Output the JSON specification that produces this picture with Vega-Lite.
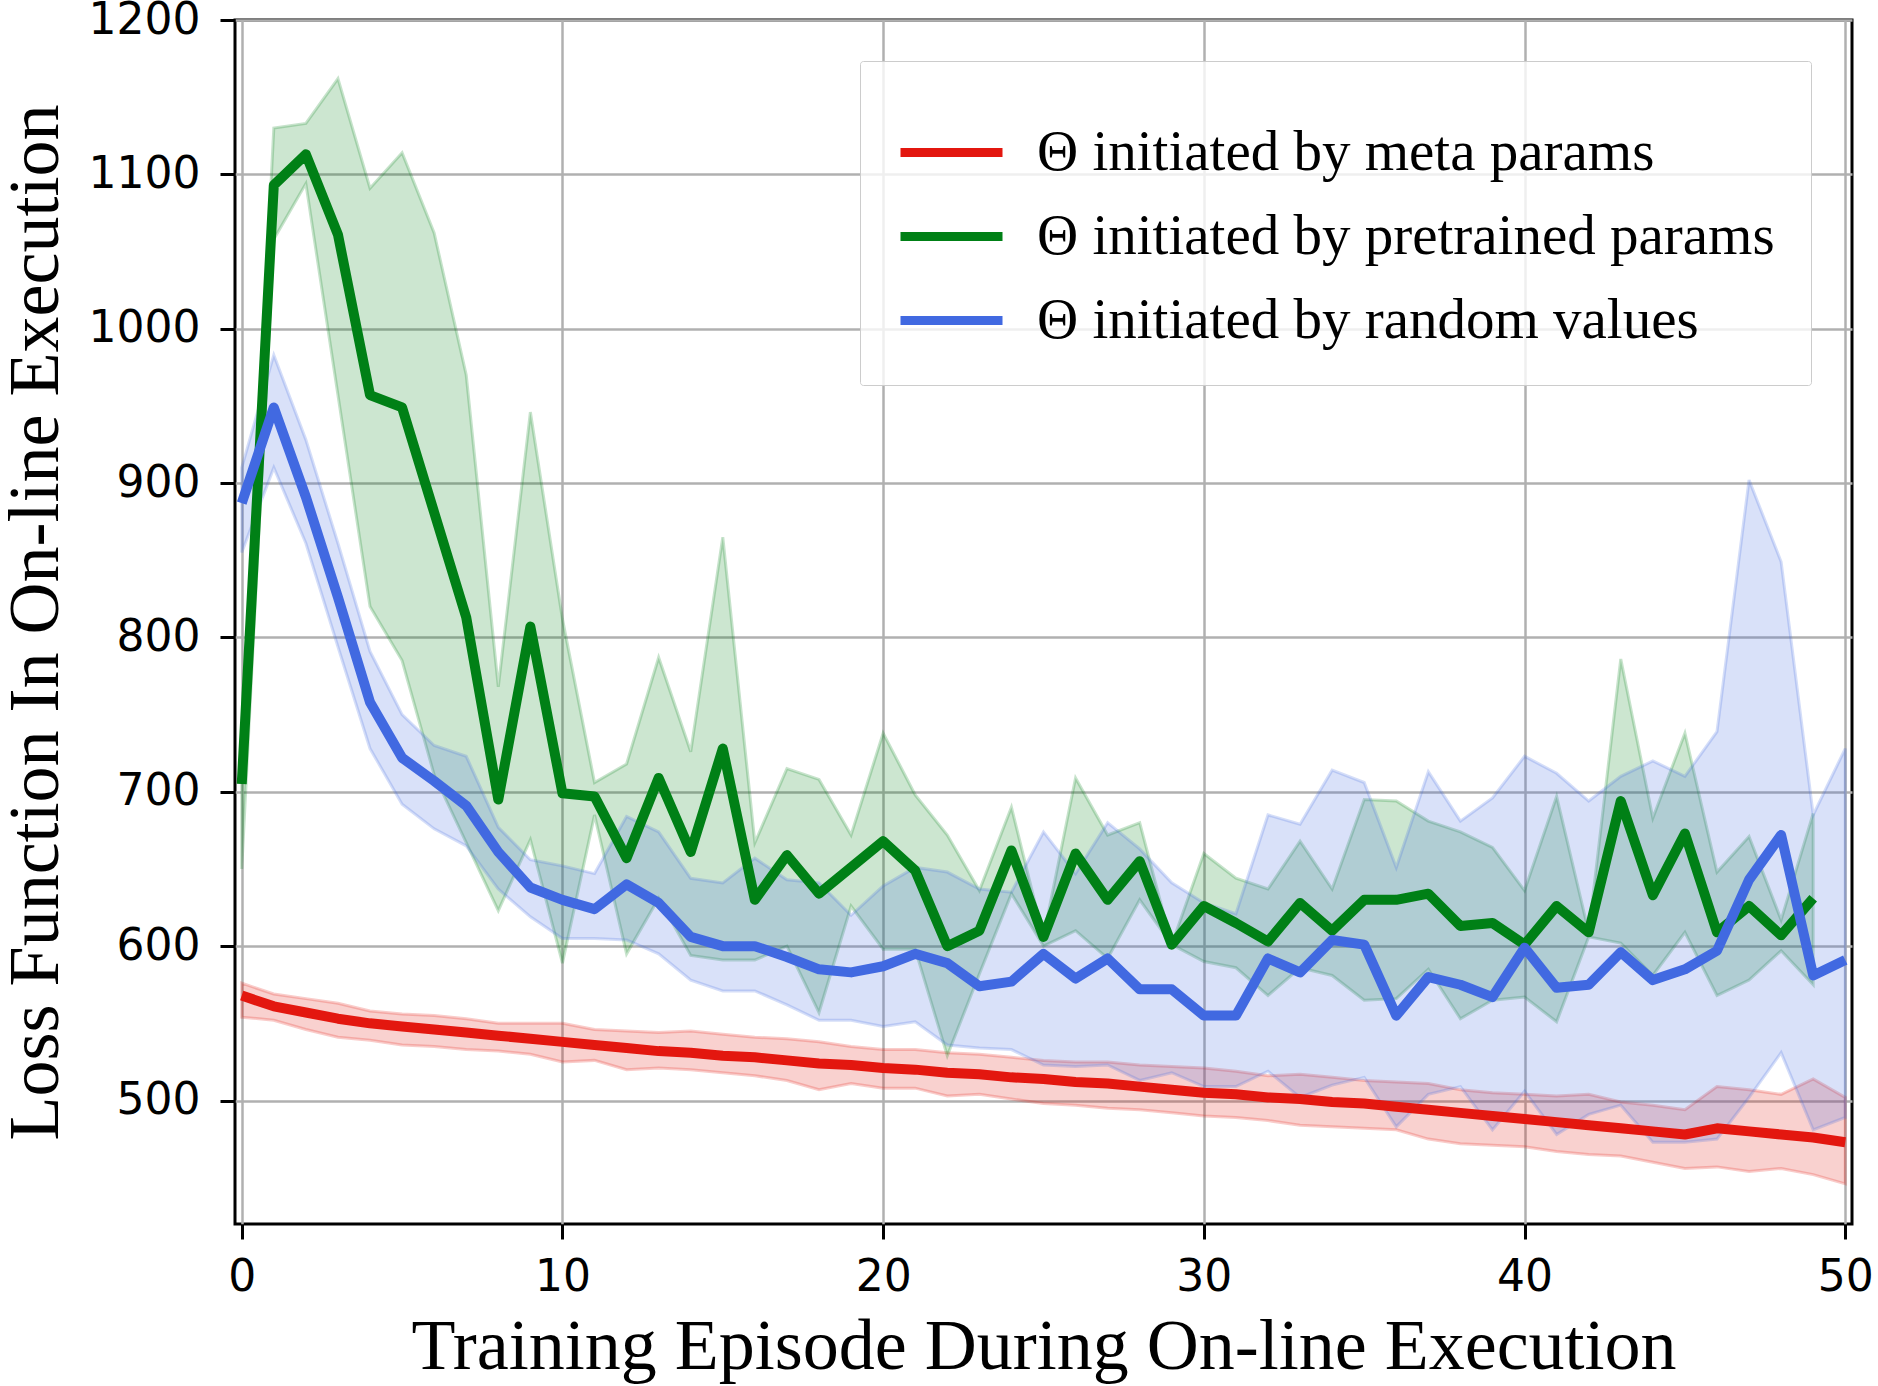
{
  "$schema": "https://vega.github.io/schema/vega-lite/v6.json",
  "description": "Loss function during on-line execution for three parameter initialisations, mean line with spread band.",
  "autosize": {"type": "none"},
  "padding": {"left": 235, "top": 20, "right": 26, "bottom": 162},
  "width": 1617,
  "height": 1204,
  "background": "white",
  "data": {
    "values": [
      {"ep": 0, "s": "Θ initiated by meta params", "m": 568, "lo": 554, "hi": 576},
      {"ep": 1, "s": "Θ initiated by meta params", "m": 561, "lo": 552, "hi": 569},
      {"ep": 2, "s": "Θ initiated by meta params", "m": 557, "lo": 546, "hi": 566},
      {"ep": 3, "s": "Θ initiated by meta params", "m": 553, "lo": 541, "hi": 563},
      {"ep": 4, "s": "Θ initiated by meta params", "m": 550, "lo": 539, "hi": 558},
      {"ep": 5, "s": "Θ initiated by meta params", "m": 548, "lo": 536, "hi": 556},
      {"ep": 6, "s": "Θ initiated by meta params", "m": 546, "lo": 535, "hi": 555},
      {"ep": 7, "s": "Θ initiated by meta params", "m": 544, "lo": 533, "hi": 553},
      {"ep": 8, "s": "Θ initiated by meta params", "m": 542, "lo": 532, "hi": 550},
      {"ep": 9, "s": "Θ initiated by meta params", "m": 540, "lo": 530, "hi": 550},
      {"ep": 10, "s": "Θ initiated by meta params", "m": 538, "lo": 525, "hi": 550},
      {"ep": 11, "s": "Θ initiated by meta params", "m": 536, "lo": 526, "hi": 546},
      {"ep": 12, "s": "Θ initiated by meta params", "m": 534, "lo": 520, "hi": 545},
      {"ep": 13, "s": "Θ initiated by meta params", "m": 532, "lo": 521, "hi": 544},
      {"ep": 14, "s": "Θ initiated by meta params", "m": 531, "lo": 520, "hi": 545},
      {"ep": 15, "s": "Θ initiated by meta params", "m": 529, "lo": 518, "hi": 543},
      {"ep": 16, "s": "Θ initiated by meta params", "m": 528, "lo": 516, "hi": 541},
      {"ep": 17, "s": "Θ initiated by meta params", "m": 526, "lo": 513, "hi": 540},
      {"ep": 18, "s": "Θ initiated by meta params", "m": 524, "lo": 507, "hi": 538},
      {"ep": 19, "s": "Θ initiated by meta params", "m": 523, "lo": 511, "hi": 535},
      {"ep": 20, "s": "Θ initiated by meta params", "m": 521, "lo": 508, "hi": 533},
      {"ep": 21, "s": "Θ initiated by meta params", "m": 520, "lo": 508, "hi": 533},
      {"ep": 22, "s": "Θ initiated by meta params", "m": 518, "lo": 503, "hi": 531},
      {"ep": 23, "s": "Θ initiated by meta params", "m": 517, "lo": 504, "hi": 530},
      {"ep": 24, "s": "Θ initiated by meta params", "m": 515, "lo": 501, "hi": 528},
      {"ep": 25, "s": "Θ initiated by meta params", "m": 514, "lo": 498, "hi": 526},
      {"ep": 26, "s": "Θ initiated by meta params", "m": 512, "lo": 497, "hi": 525},
      {"ep": 27, "s": "Θ initiated by meta params", "m": 511, "lo": 495, "hi": 525},
      {"ep": 28, "s": "Θ initiated by meta params", "m": 509, "lo": 494, "hi": 523},
      {"ep": 29, "s": "Θ initiated by meta params", "m": 507, "lo": 492, "hi": 522},
      {"ep": 30, "s": "Θ initiated by meta params", "m": 505, "lo": 490, "hi": 521},
      {"ep": 31, "s": "Θ initiated by meta params", "m": 504, "lo": 489, "hi": 519},
      {"ep": 32, "s": "Θ initiated by meta params", "m": 502, "lo": 487, "hi": 516},
      {"ep": 33, "s": "Θ initiated by meta params", "m": 501, "lo": 484, "hi": 517},
      {"ep": 34, "s": "Θ initiated by meta params", "m": 499, "lo": 483, "hi": 515},
      {"ep": 35, "s": "Θ initiated by meta params", "m": 498, "lo": 482, "hi": 513},
      {"ep": 36, "s": "Θ initiated by meta params", "m": 496, "lo": 481, "hi": 512},
      {"ep": 37, "s": "Θ initiated by meta params", "m": 494, "lo": 475, "hi": 511},
      {"ep": 38, "s": "Θ initiated by meta params", "m": 492, "lo": 472, "hi": 507},
      {"ep": 39, "s": "Θ initiated by meta params", "m": 490, "lo": 471, "hi": 505},
      {"ep": 40, "s": "Θ initiated by meta params", "m": 488, "lo": 470, "hi": 504},
      {"ep": 41, "s": "Θ initiated by meta params", "m": 486, "lo": 467, "hi": 503},
      {"ep": 42, "s": "Θ initiated by meta params", "m": 484, "lo": 465, "hi": 504},
      {"ep": 43, "s": "Θ initiated by meta params", "m": 482, "lo": 464, "hi": 499},
      {"ep": 44, "s": "Θ initiated by meta params", "m": 480, "lo": 460, "hi": 497},
      {"ep": 45, "s": "Θ initiated by meta params", "m": 478, "lo": 456, "hi": 494},
      {"ep": 46, "s": "Θ initiated by meta params", "m": 482, "lo": 457, "hi": 509},
      {"ep": 47, "s": "Θ initiated by meta params", "m": 480, "lo": 454, "hi": 507},
      {"ep": 48, "s": "Θ initiated by meta params", "m": 478, "lo": 456, "hi": 504},
      {"ep": 49, "s": "Θ initiated by meta params", "m": 476, "lo": 452, "hi": 514},
      {"ep": 50, "s": "Θ initiated by meta params", "m": 473, "lo": 446, "hi": 502},

      {"ep": 0, "s": "Θ initiated by pretrained params", "m": 705, "lo": 650, "hi": 720},
      {"ep": 1, "s": "Θ initiated by pretrained params", "m": 1093, "lo": 1058, "hi": 1130},
      {"ep": 2, "s": "Θ initiated by pretrained params", "m": 1113, "lo": 1094, "hi": 1133},
      {"ep": 3, "s": "Θ initiated by pretrained params", "m": 1061, "lo": 957, "hi": 1162},
      {"ep": 4, "s": "Θ initiated by pretrained params", "m": 957, "lo": 820, "hi": 1091},
      {"ep": 5, "s": "Θ initiated by pretrained params", "m": 949, "lo": 785, "hi": 1114},
      {"ep": 6, "s": "Θ initiated by pretrained params", "m": 881, "lo": 711, "hi": 1062},
      {"ep": 7, "s": "Θ initiated by pretrained params", "m": 813, "lo": 667, "hi": 970},
      {"ep": 8, "s": "Θ initiated by pretrained params", "m": 695, "lo": 623, "hi": 768},
      {"ep": 9, "s": "Θ initiated by pretrained params", "m": 807, "lo": 669, "hi": 946},
      {"ep": 10, "s": "Θ initiated by pretrained params", "m": 699, "lo": 589, "hi": 812},
      {"ep": 11, "s": "Θ initiated by pretrained params", "m": 697, "lo": 685, "hi": 706},
      {"ep": 12, "s": "Θ initiated by pretrained params", "m": 657, "lo": 595, "hi": 718},
      {"ep": 13, "s": "Θ initiated by pretrained params", "m": 709, "lo": 631, "hi": 787},
      {"ep": 14, "s": "Θ initiated by pretrained params", "m": 661, "lo": 594, "hi": 726},
      {"ep": 15, "s": "Θ initiated by pretrained params", "m": 728, "lo": 591, "hi": 865},
      {"ep": 16, "s": "Θ initiated by pretrained params", "m": 630, "lo": 591, "hi": 667},
      {"ep": 17, "s": "Θ initiated by pretrained params", "m": 659, "lo": 600, "hi": 715},
      {"ep": 18, "s": "Θ initiated by pretrained params", "m": 634, "lo": 557, "hi": 708},
      {"ep": 19, "s": "Θ initiated by pretrained params", "m": 651, "lo": 626, "hi": 672},
      {"ep": 20, "s": "Θ initiated by pretrained params", "m": 668, "lo": 598, "hi": 738},
      {"ep": 21, "s": "Θ initiated by pretrained params", "m": 649, "lo": 598, "hi": 698},
      {"ep": 22, "s": "Θ initiated by pretrained params", "m": 600, "lo": 529, "hi": 672},
      {"ep": 23, "s": "Θ initiated by pretrained params", "m": 610, "lo": 582, "hi": 636},
      {"ep": 24, "s": "Θ initiated by pretrained params", "m": 662, "lo": 634, "hi": 690},
      {"ep": 25, "s": "Θ initiated by pretrained params", "m": 606, "lo": 600, "hi": 606},
      {"ep": 26, "s": "Θ initiated by pretrained params", "m": 660, "lo": 610, "hi": 709},
      {"ep": 27, "s": "Θ initiated by pretrained params", "m": 630, "lo": 592, "hi": 672},
      {"ep": 28, "s": "Θ initiated by pretrained params", "m": 655, "lo": 630, "hi": 680},
      {"ep": 29, "s": "Θ initiated by pretrained params", "m": 601, "lo": 601, "hi": 601},
      {"ep": 30, "s": "Θ initiated by pretrained params", "m": 626, "lo": 590, "hi": 660},
      {"ep": 31, "s": "Θ initiated by pretrained params", "m": 615, "lo": 586, "hi": 644},
      {"ep": 32, "s": "Θ initiated by pretrained params", "m": 603, "lo": 568, "hi": 637},
      {"ep": 33, "s": "Θ initiated by pretrained params", "m": 628, "lo": 586, "hi": 668},
      {"ep": 34, "s": "Θ initiated by pretrained params", "m": 610, "lo": 581, "hi": 637},
      {"ep": 35, "s": "Θ initiated by pretrained params", "m": 630, "lo": 565, "hi": 695},
      {"ep": 36, "s": "Θ initiated by pretrained params", "m": 630, "lo": 566, "hi": 694},
      {"ep": 37, "s": "Θ initiated by pretrained params", "m": 634, "lo": 585, "hi": 681},
      {"ep": 38, "s": "Θ initiated by pretrained params", "m": 613, "lo": 553, "hi": 674},
      {"ep": 39, "s": "Θ initiated by pretrained params", "m": 615, "lo": 565, "hi": 664},
      {"ep": 40, "s": "Θ initiated by pretrained params", "m": 601, "lo": 567, "hi": 636},
      {"ep": 41, "s": "Θ initiated by pretrained params", "m": 626, "lo": 551, "hi": 697},
      {"ep": 42, "s": "Θ initiated by pretrained params", "m": 609, "lo": 606, "hi": 609},
      {"ep": 43, "s": "Θ initiated by pretrained params", "m": 694, "lo": 602, "hi": 786},
      {"ep": 44, "s": "Θ initiated by pretrained params", "m": 633, "lo": 581, "hi": 683},
      {"ep": 45, "s": "Θ initiated by pretrained params", "m": 673, "lo": 609, "hi": 738},
      {"ep": 46, "s": "Θ initiated by pretrained params", "m": 609, "lo": 568, "hi": 648},
      {"ep": 47, "s": "Θ initiated by pretrained params", "m": 626, "lo": 578, "hi": 671},
      {"ep": 48, "s": "Θ initiated by pretrained params", "m": 607, "lo": 597, "hi": 617},
      {"ep": 49, "s": "Θ initiated by pretrained params", "m": 631, "lo": 575, "hi": 686},

      {"ep": 0, "s": "Θ initiated by random values", "m": 887, "lo": 855, "hi": 910},
      {"ep": 1, "s": "Θ initiated by random values", "m": 949, "lo": 910, "hi": 983},
      {"ep": 2, "s": "Θ initiated by random values", "m": 891, "lo": 861, "hi": 928},
      {"ep": 3, "s": "Θ initiated by random values", "m": 826, "lo": 794, "hi": 861},
      {"ep": 4, "s": "Θ initiated by random values", "m": 758, "lo": 728, "hi": 791},
      {"ep": 5, "s": "Θ initiated by random values", "m": 722, "lo": 692, "hi": 750},
      {"ep": 6, "s": "Θ initiated by random values", "m": 707, "lo": 676, "hi": 730},
      {"ep": 7, "s": "Θ initiated by random values", "m": 691, "lo": 665, "hi": 723},
      {"ep": 8, "s": "Θ initiated by random values", "m": 661, "lo": 637, "hi": 677},
      {"ep": 9, "s": "Θ initiated by random values", "m": 638, "lo": 619, "hi": 656},
      {"ep": 10, "s": "Θ initiated by random values", "m": 630, "lo": 605, "hi": 652},
      {"ep": 11, "s": "Θ initiated by random values", "m": 624, "lo": 605, "hi": 647},
      {"ep": 12, "s": "Θ initiated by random values", "m": 640, "lo": 604, "hi": 684},
      {"ep": 13, "s": "Θ initiated by random values", "m": 628, "lo": 595, "hi": 674},
      {"ep": 14, "s": "Θ initiated by random values", "m": 606, "lo": 578, "hi": 644},
      {"ep": 15, "s": "Θ initiated by random values", "m": 600, "lo": 571, "hi": 641},
      {"ep": 16, "s": "Θ initiated by random values", "m": 600, "lo": 571, "hi": 657},
      {"ep": 17, "s": "Θ initiated by random values", "m": 593, "lo": 562, "hi": 643},
      {"ep": 18, "s": "Θ initiated by random values", "m": 585, "lo": 552, "hi": 641},
      {"ep": 19, "s": "Θ initiated by random values", "m": 583, "lo": 552, "hi": 620},
      {"ep": 20, "s": "Θ initiated by random values", "m": 587, "lo": 548, "hi": 639},
      {"ep": 21, "s": "Θ initiated by random values", "m": 595, "lo": 551, "hi": 651},
      {"ep": 22, "s": "Θ initiated by random values", "m": 589, "lo": 536, "hi": 648},
      {"ep": 23, "s": "Θ initiated by random values", "m": 574, "lo": 534, "hi": 637},
      {"ep": 24, "s": "Θ initiated by random values", "m": 577, "lo": 533, "hi": 635},
      {"ep": 25, "s": "Θ initiated by random values", "m": 595, "lo": 523, "hi": 674},
      {"ep": 26, "s": "Θ initiated by random values", "m": 579, "lo": 522, "hi": 647},
      {"ep": 27, "s": "Θ initiated by random values", "m": 592, "lo": 523, "hi": 680},
      {"ep": 28, "s": "Θ initiated by random values", "m": 572, "lo": 513, "hi": 663},
      {"ep": 29, "s": "Θ initiated by random values", "m": 572, "lo": 518, "hi": 641},
      {"ep": 30, "s": "Θ initiated by random values", "m": 555, "lo": 509, "hi": 628},
      {"ep": 31, "s": "Θ initiated by random values", "m": 555, "lo": 509, "hi": 621},
      {"ep": 32, "s": "Θ initiated by random values", "m": 592, "lo": 519, "hi": 685},
      {"ep": 33, "s": "Θ initiated by random values", "m": 583, "lo": 502, "hi": 679},
      {"ep": 34, "s": "Θ initiated by random values", "m": 604, "lo": 510, "hi": 714},
      {"ep": 35, "s": "Θ initiated by random values", "m": 601, "lo": 515, "hi": 706},
      {"ep": 36, "s": "Θ initiated by random values", "m": 555, "lo": 483, "hi": 651},
      {"ep": 37, "s": "Θ initiated by random values", "m": 580, "lo": 504, "hi": 713},
      {"ep": 38, "s": "Θ initiated by random values", "m": 575, "lo": 509, "hi": 681},
      {"ep": 39, "s": "Θ initiated by random values", "m": 567, "lo": 481, "hi": 696},
      {"ep": 40, "s": "Θ initiated by random values", "m": 599, "lo": 506, "hi": 723},
      {"ep": 41, "s": "Θ initiated by random values", "m": 573, "lo": 478, "hi": 712},
      {"ep": 42, "s": "Θ initiated by random values", "m": 575, "lo": 491, "hi": 694},
      {"ep": 43, "s": "Θ initiated by random values", "m": 596, "lo": 497, "hi": 710},
      {"ep": 44, "s": "Θ initiated by random values", "m": 578, "lo": 473, "hi": 720},
      {"ep": 45, "s": "Θ initiated by random values", "m": 585, "lo": 473, "hi": 710},
      {"ep": 46, "s": "Θ initiated by random values", "m": 597, "lo": 475, "hi": 739},
      {"ep": 47, "s": "Θ initiated by random values", "m": 643, "lo": 502, "hi": 902},
      {"ep": 48, "s": "Θ initiated by random values", "m": 672, "lo": 531, "hi": 849},
      {"ep": 49, "s": "Θ initiated by random values", "m": 581, "lo": 481, "hi": 685},
      {"ep": 50, "s": "Θ initiated by random values", "m": 591, "lo": 489, "hi": 728}
    ]
  },
  "encoding": {
    "x": {
      "field": "ep",
      "type": "quantitative",
      "scale": {"domain": [-0.21, 50.21], "nice": false, "zero": false},
      "axis": {"values": [0, 10, 20, 30, 40, 50], "title": "Training Episode During On-line Execution"}
    },
    "color": {
      "field": "s",
      "type": "nominal",
      "scale": {
        "domain": ["Θ initiated by meta params", "Θ initiated by pretrained params", "Θ initiated by random values"],
        "range": ["#e3170f", "#008016", "#4169e1"]
      },
      "legend": {"title": null, "orient": "top-right", "offset": 41, "symbolType": "stroke"}
    }
  },
  "layer": [
    {
      "mark": {"type": "area", "fillOpacity": 0.2, "strokeOpacity": 0.22, "strokeWidth": 3, "clip": true},
      "encoding": {
        "y": {
          "field": "lo",
          "type": "quantitative",
          "scale": {"domain": [420, 1200], "nice": false, "zero": false},
          "axis": {"values": [500, 600, 700, 800, 900, 1000, 1100, 1200], "format": "d", "title": "Loss Function In On-line Execution"}
        },
        "y2": {"field": "hi"},
        "stroke": {"field": "s", "type": "nominal", "legend": null}
      }
    },
    {
      "mark": {"type": "line", "strokeWidth": 10, "strokeJoin": "round", "clip": true},
      "encoding": {
        "y": {"field": "m", "type": "quantitative"}
      }
    }
  ],
  "config": {
    "view": {"stroke": "black", "strokeWidth": 3},
    "range": {"category": ["#e3170f", "#008016", "#4169e1"]},
    "axis": {
      "domain": false,
      "labelFont": "DejaVu Sans",
      "labelFontSize": 44,
      "labelColor": "black",
      "tickColor": "black",
      "tickSize": 15,
      "tickWidth": 3,
      "grid": true,
      "gridColor": "#b0b0b0",
      "gridWidth": 2.5,
      "gridOpacity": 1,
      "titleFont": "Liberation Serif",
      "titleFontSize": 72,
      "titleFontWeight": "normal",
      "titleColor": "black",
      "labelFlush": false,
      "labelOverlap": false
    },
    "axisX": {"labelPadding": 16, "titlePadding": 12},
    "axisY": {"labelPadding": 20, "titlePadding": 16},
    "legend": {
      "labelFont": "Liberation Serif",
      "labelFontSize": 57,
      "labelColor": "black",
      "labelLimit": 1200,
      "labelOffset": 30,
      "symbolSize": 10404,
      "symbolStrokeWidth": 9,
      "rowPadding": 0,
      "padding": 36,
      "fillColor": "rgba(255,255,255,0.8)",
      "strokeColor": "#cccccc",
      "cornerRadius": 3
    }
  }
}
